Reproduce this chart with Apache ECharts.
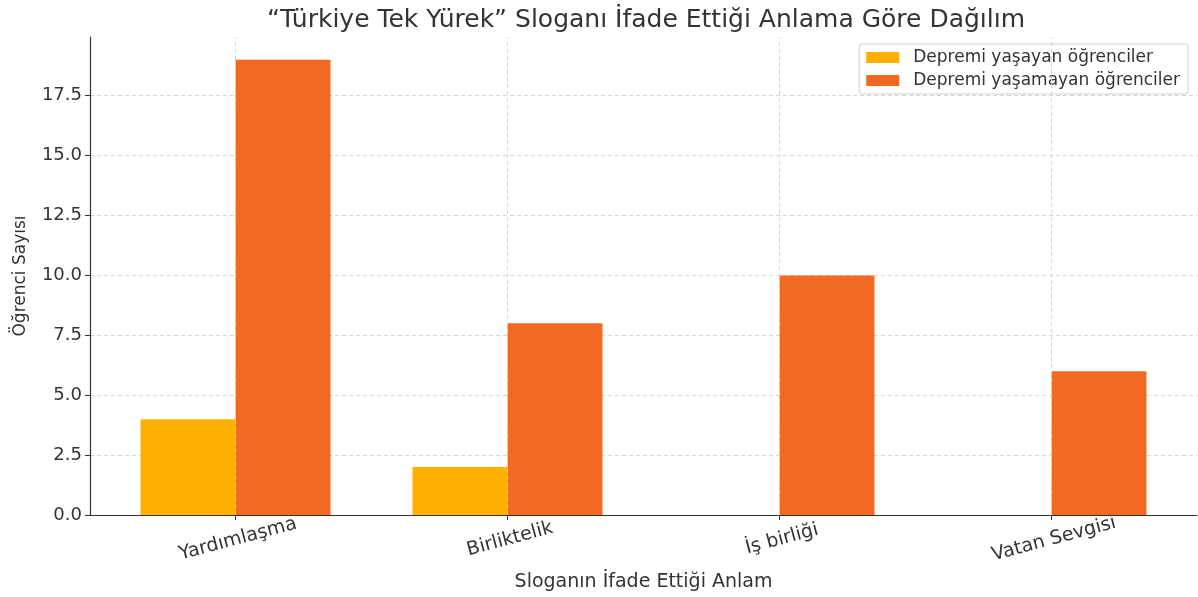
<!DOCTYPE html>
<html><head><meta charset="utf-8">
<script src="https://cdn.jsdelivr.net/npm/echarts@6/dist/echarts.min.js"></script>
<style>html,body{margin:0;padding:0;background:#fff}#c{width:1198px;height:597px}</style>
</head><body><div id="c"></div>
<script>
const categories = ["Yardımlaşma", "Birliktelik", "İş birliği", "Vatan Sevgisi"];
const seriesNames = ["Depremi yaşayan öğrenciler", "Depremi yaşamayan öğrenciler"];
const yasayan = [4, 2, 0, 0];
const yasamayan = [19, 8, 10, 6];
const yTicks = [0, 2.5, 5, 7.5, 10, 12.5, 15, 17.5];
const catPos = categories.map((c, i) => i);

const font = "DejaVu Sans";
const chart = echarts.init(document.getElementById('c'), null, {renderer: 'canvas'});
chart.setOption({
  animation: false,
  textStyle: {fontFamily: font},
  title: {
    text: "“Türkiye Tek Yürek” Sloganı İfade Ettiği Anlama Göre Dağılım",
    left: 262, top: 3,
    textStyle: {fontFamily: font, fontSize: 25, fontWeight: 'normal', color: '#333'}
  },
  legend: {
    orient: 'vertical', right: 10, top: 44,
    itemWidth: 33, itemHeight: 11, itemGap: 6,
    borderColor: '#d0d0d0', borderWidth: 1, borderRadius: 3,
    padding: [5, 8, 5, 7],
    icon: 'rect',
    textStyle: {fontFamily: font, fontSize: 17, color: '#333', padding: [0, 0, 0, 9]},
    data: seriesNames
  },
  grid: {left: 90, right: 1, top: 37, bottom: 75},
  xAxis: {
    type: 'value', min: -0.535, max: 3.535,
    name: "Sloganın İfade Ettiği Anlam", nameLocation: 'middle', nameGap: 58,
    nameTextStyle: {fontFamily: font, fontSize: 19, color: '#333'},
    axisLine: {show: true, onZero: false, lineStyle: {color: '#333', width: 1.2}},
    axisTick: {show: true, customValues: catPos, length: 5, lineStyle: {color: '#333'}},
    axisLabel: {
      customValues: catPos, rotate: 15, align: 'center', verticalAlign: 'top', margin: 15,
      fontFamily: font, fontSize: 19, color: '#333',
      formatter: v => categories[Math.round(v)]
    },
    splitLine: {show: false}
  },
  yAxis: {
    type: 'value', min: 0, max: 19.95, interval: 2.5,
    name: "Öğrenci Sayısı", nameLocation: 'middle', nameGap: 61,
    nameTextStyle: {fontFamily: font, fontSize: 17, color: '#333'},
    axisLine: {show: true, onZero: false, lineStyle: {color: '#333', width: 1.2}},
    axisTick: {show: true, length: 5, lineStyle: {color: '#333'}, customValues: yTicks},
    axisLabel: {
      customValues: yTicks, fontFamily: font, fontSize: 18, color: '#333', margin: 8,
      formatter: v => v.toFixed(1)
    },
    splitLine: {show: true, lineStyle: {color: '#d5d5d5', type: [4, 3], width: 1}}
  },
  series: [
    {
      type: 'line', data: [], z: 0, silent: true,
      markLine: {
        silent: true, symbol: 'none', label: {show: false},
        lineStyle: {color: '#d5d5d5', type: [4, 3], width: 1},
        data: catPos.map(p => ({xAxis: p}))
      }
    },
    {
      name: seriesNames[0], type: 'bar', barWidth: 95, barGap: '0%', z: 2,
      itemStyle: {color: '#FFB000'},
      data: yasayan.map((v, i) => [catPos[i], v])
    },
    {
      name: seriesNames[1], type: 'bar', barWidth: 95, barGap: '0%', z: 2,
      itemStyle: {color: '#F26A22'},
      data: yasamayan.map((v, i) => [catPos[i], v])
    }
  ]
});
</script></body></html>
